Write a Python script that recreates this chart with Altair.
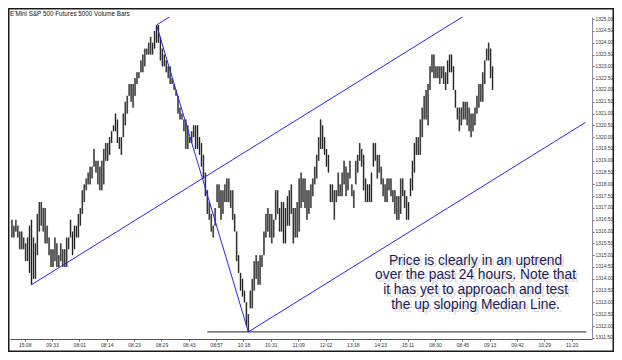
import altair as alt
import pandas as pd

# ---- data (5000-contract volume bars) ----
highs = [
    1316.5, 1316.25, 1316.5, 1316.25, 1316.0, 1316.0, 1315.75, 1315.5, 1315.75, 1316.25,
    1316.5, 1315.75, 1315.5, 1316.75, 1317.25, 1317.25, 1317.0, 1317.0, 1316.25, 1315.75,
    1315.25, 1315.25, 1315.75, 1315.5, 1315.0, 1315.5, 1315.25, 1315.25, 1315.75, 1315.75,
    1316.5, 1316.0, 1316.25, 1316.25, 1316.75, 1317.0, 1317.75, 1318.0, 1318.25, 1318.5,
    1318.75, 1318.75, 1319.5, 1319.0, 1319.0, 1318.75, 1319.0, 1319.5, 1319.75, 1319.75,
    1320.0, 1320.25, 1320.5, 1321.0, 1320.75, 1320.0, 1320.0, 1321.0, 1321.5, 1321.75,
    1322.25, 1322.25, 1322.25, 1322.5, 1322.75, 1322.75, 1323.25, 1323.5, 1323.75, 1323.75,
    1324.0, 1324.25, 1324.0, 1324.5, 1324.75, 1324.75, 1324.25, 1323.75, 1323.5, 1323.25,
    1323.0, 1323.0, 1322.5, 1322.25, 1322.0, 1321.75, 1321.25, 1321.0, 1320.75, 1320.75,
    1320.5, 1320.0, 1320.25, 1320.5, 1320.5, 1320.5, 1320.0, 1319.75, 1319.25, 1318.5,
    1317.75, 1317.25, 1316.75, 1316.25, 1317.0, 1318.0, 1318.0, 1317.75, 1317.75, 1318.0,
    1318.25, 1318.25, 1317.75, 1317.75, 1316.75, 1316.0, 1315.0, 1314.25, 1314.0, 1313.5,
    1313.0, 1312.5,
    1313.5, 1314.0, 1314.75, 1315.0, 1314.75, 1315.0, 1315.0, 1316.0,
    1316.75, 1317.0, 1316.75, 1316.75, 1316.5, 1317.75, 1317.75, 1317.0, 1317.25, 1317.25,
    1317.0, 1317.5, 1317.75, 1318.0, 1317.0, 1317.0, 1317.25, 1318.25, 1318.5, 1318.25,
    1318.25, 1317.75, 1317.75, 1318.0, 1318.25, 1318.75, 1319.25, 1320.0, 1320.75, 1320.5,
    1320.0, 1319.5, 1319.25, 1318.0, 1318.0, 1317.75, 1317.75, 1318.5, 1318.0, 1318.5,
    1319.0, 1318.75, 1318.5, 1319.0, 1318.0, 1317.75, 1319.0, 1319.25, 1319.75, 1319.5,
    1319.25, 1318.25, 1318.0, 1318.0,
    1318.5, 1319.75, 1319.75, 1319.25, 1319.25, 1318.75, 1318.25, 1318.0, 1318.25, 1318.25,
    1318.25, 1317.75, 1317.75, 1317.5, 1317.5, 1318.25, 1318.25, 1317.75, 1317.5, 1317.25,
    1318.25, 1319.0, 1319.75, 1320.0, 1320.0, 1320.75, 1321.25, 1321.75, 1322.0, 1322.25,
    1323.0, 1323.5, 1323.5, 1323.0, 1323.0, 1323.0, 1323.0, 1323.0, 1322.75, 1323.25,
    1323.5, 1323.5, 1323.0, 1322.0, 1321.25, 1321.25, 1321.25, 1321.5, 1321.5, 1321.5,
    1321.25, 1321.0, 1321.0, 1321.25, 1321.75, 1322.25, 1322.25, 1322.75, 1323.25, 1323.75,
    1324.0, 1323.75, 1323.0,
]
lows = [
    1315.75, 1315.75, 1316.0, 1315.75, 1315.25, 1315.25, 1315.25, 1314.75, 1314.75, 1314.25,
    1313.75, 1314.0, 1314.0, 1315.0, 1316.0, 1316.25, 1316.0, 1315.5, 1315.5, 1315.0,
    1314.5, 1314.5, 1314.75, 1314.5, 1314.5, 1314.75, 1314.5, 1314.5, 1314.5, 1315.25,
    1315.75, 1315.0, 1315.25, 1315.75, 1315.75, 1316.25, 1316.75, 1317.25, 1317.75, 1318.0,
    1318.0, 1318.25, 1318.75, 1318.5, 1318.0, 1317.75, 1317.75, 1318.0, 1319.0, 1319.0,
    1319.25, 1319.75, 1320.25, 1320.25, 1319.75, 1319.5, 1319.25, 1320.0, 1320.5, 1321.0,
    1321.75, 1321.5, 1321.25, 1321.75, 1322.25, 1322.5, 1322.75, 1322.75, 1323.0, 1323.5,
    1323.5, 1323.5, 1323.5, 1323.75, 1324.0, 1324.0, 1323.25, 1323.0, 1323.0, 1322.75,
    1322.5, 1322.25, 1322.25, 1322.0, 1321.75, 1321.0, 1320.75, 1320.75, 1320.25, 1319.5,
    1319.5, 1319.75, 1319.75, 1320.0, 1319.5, 1319.5, 1319.25, 1318.75, 1318.25, 1317.5,
    1316.75, 1316.5, 1316.0, 1315.75, 1316.25, 1317.25, 1317.0, 1316.5, 1316.75, 1317.25,
    1317.25, 1317.25, 1317.0, 1316.5, 1316.0, 1314.75, 1314.25, 1313.5, 1313.25, 1313.0,
    1312.0, 1311.75,
    1312.75, 1312.75, 1313.5, 1314.0, 1313.75, 1313.75, 1314.5, 1315.0,
    1315.75, 1316.0, 1315.75, 1315.5, 1315.75, 1316.5, 1316.75, 1316.0, 1316.0, 1315.5,
    1315.5, 1316.25, 1316.25, 1316.75, 1315.5, 1315.75, 1315.75, 1316.0, 1317.0, 1317.25,
    1317.0, 1316.5, 1316.75, 1317.0, 1317.5, 1318.0, 1318.25, 1319.0, 1319.5, 1319.5,
    1319.25, 1318.75, 1318.5, 1317.25, 1317.25, 1316.5, 1317.25, 1317.5, 1317.5, 1317.5,
    1318.0, 1317.5, 1317.75, 1318.25, 1317.5, 1317.0, 1318.0, 1318.5, 1319.0, 1318.75,
    1317.75, 1317.25, 1317.25, 1317.25,
    1317.25, 1318.75, 1319.0, 1318.25, 1318.5, 1318.0, 1317.5, 1317.25, 1317.25, 1317.75,
    1317.5, 1317.25, 1316.75, 1316.5, 1316.5, 1316.75, 1317.5, 1317.0, 1316.5, 1316.5,
    1317.5, 1317.75, 1318.5, 1319.25, 1319.25, 1319.25, 1320.0, 1320.75, 1320.75, 1320.5,
    1322.0, 1322.75, 1322.5, 1322.5, 1322.5, 1322.25, 1322.5, 1322.25, 1322.0, 1322.25,
    1322.75, 1322.75, 1322.0, 1321.25, 1320.75, 1320.25, 1320.5, 1320.75, 1320.75, 1320.5,
    1320.25, 1320.0, 1320.25, 1320.5, 1321.0, 1321.25, 1321.5, 1321.5, 1322.25, 1323.25,
    1323.25, 1322.5, 1322.0,
]

time_labels = ["15:08", "09:33", "08:01", "08:14", "08:23", "08:29", "08:43", "08:57",
               "10:18", "10:31", "11:09", "12:02", "13:18", "14:23", "15:11", "08:30",
               "08:45", "09:13", "09:42", "10:29", "11:20"]
time_ticks = [6.5, 20.5, 34.5, 48.5, 62.5, 76.5, 90.5, 104.5, 118.5, 132.5, 146.5,
              160.5, 174.5, 188.5, 202.5, 216.5, 230.5, 244.5, 258.5, 272.5, 286.5]
price_ticks = [1311.5 + 0.5 * k for k in range(28)]

# pitchfork pivots (bar index, price)
pivot_idx = [10, 74, 121]
pivot_px = [1313.75, 1324.75, 1311.75]
fork_end = [240, 90, 293.5]       # bar index where each tine ends
support_span = [100, 294]         # horizontal line at the low pivot

title_text = "E'Mini S&P 500 Futures 5000 Volume Bars"
note_lines = ["Price is clearly in an uptrend",
              "over the past 24 hours.  Note that",
              "it has yet to approach and test",
              "the up sloping Median Line."]
note_pos = (237.3, 1314.77)   # centre of the first line

# ---- build tables ----
n = min(len(highs), len(lows))
bars = pd.DataFrame({"i": list(range(n)), "high": highs[:n], "low": lows[:n]})

ax_, ay_ = pivot_idx[0], pivot_px[0]
bx_, by_ = pivot_idx[1], pivot_px[1]
cx_, cy_ = pivot_idx[2], pivot_px[2]
mx_, my_ = (bx_ + cx_) / 2, (by_ + cy_) / 2
slope = (my_ - ay_) / (mx_ - ax_)
segs = pd.DataFrame({
    "x": [ax_, bx_, cx_, bx_],
    "y": [ay_, by_, cy_, by_],
    "x2": [fork_end[0], fork_end[1], fork_end[2], cx_],
    "y2": [ay_ + slope * (fork_end[0] - ax_), by_ + slope * (fork_end[1] - bx_),
           cy_ + slope * (fork_end[2] - cx_), cy_],
})
support = pd.DataFrame({"x": [support_span[0]], "x2": [support_span[1]], "y": [cy_]})

W, H = 582, 322
xs = alt.Scale(domain=[-1, 296.9], nice=False, zero=False)
ys = alt.Scale(domain=[1311.45, 1325.09], nice=False, zero=False)

label_arr = "[" + ",".join("'%s'" % t for t in time_labels) + "]"
x_axis = alt.Axis(values=time_ticks, labelExpr=label_arr + "[round((datum.value-6.5)/14)]",
                  title=None, grid=False, labelFontSize=5, labelFont="Liberation Sans",
                  labelColor="#333333", tickSize=2, labelPadding=1, tickColor="#6b6b80",
                  domainColor="#555555", labelFlush=False, labelOverlap=False)
y_axis = alt.Axis(orient="right", values=price_ticks, format=".2f", title=None, grid=False,
                  labelFontSize=4.9, labelFont="Liberation Sans", labelColor="#333333",
                  tickSize=2, labelPadding=1, tickColor="#6b6b80", domainColor="#8a8aa0",
                  labelOverlap=False, labelFlush=False)

bar_under = alt.Chart(bars).mark_rule(color="#a8a8a8", strokeWidth=2).encode(
    x=alt.X("i:Q", scale=xs, axis=x_axis),
    y=alt.Y("low:Q", scale=ys, axis=y_axis),
    y2="high:Q",
)
bar_layer = alt.Chart(bars).mark_rule(color="#1e1e1e", strokeWidth=1).encode(
    x=alt.X("i:Q", scale=xs, axis=x_axis), y=alt.Y("low:Q", scale=ys, axis=y_axis), y2="high:Q",
)

fork_layer = alt.Chart(segs).mark_rule(color="#2626f2", strokeWidth=1, clip=True).encode(
    x=alt.X("x:Q", scale=xs, axis=x_axis), y=alt.Y("y:Q", scale=ys, axis=y_axis),
    x2="x2:Q", y2="y2:Q"
)

support_layer = alt.Chart(support).mark_rule(color="#222222", strokeWidth=1).encode(
    x=alt.X("x:Q", scale=xs, axis=x_axis), x2="x2:Q", y=alt.Y("y:Q", scale=ys, axis=y_axis)
)

note_df = pd.DataFrame({"x": [note_pos[0]], "y": [note_pos[1]]})
def note(color, dx, dy, opacity):
    return alt.Chart(note_df).mark_text(
        text=note_lines, font="Liberation Sans", fontSize=13.8, lineHeight=14.8,
        align="center", baseline="middle", color=color, dx=dx, dy=dy, opacity=opacity
    ).encode(x=alt.X("x:Q", scale=xs, axis=x_axis), y=alt.Y("y:Q", scale=ys, axis=y_axis))

note_layers = [note("#a0a0a0", 2.5, 2.5, 0.4), note("#1c1c5a", 0, 0, 1.0)]

title_layer = alt.Chart(pd.DataFrame({"t": [title_text]})).mark_text(
    font="Liberation Sans", fontSize=6.3, align="left", baseline="middle", color="#111111"
).encode(text="t:N", x=alt.value(0), y=alt.value(-3))

frame = alt.Chart(pd.DataFrame({"a": [0]})).mark_rect(
    fillOpacity=0, stroke="#1a1a1a", strokeWidth=1.5
).encode(x=alt.value(-1.25), x2=alt.value(W + 22 - 0.75), y=alt.value(-8.25),
         y2=alt.value(H + 13 - 0.75))

chart = alt.layer(
    bar_under, bar_layer, fork_layer, support_layer, *note_layers, title_layer, frame
).properties(
    width=W, height=H,
    autosize=alt.AutoSizeParams(type="none"),
    padding={"left": 2, "top": 9, "right": 22, "bottom": 13},
    background="white",
).configure_view(stroke=None).configure_axis(labelOverlap=False)

chart.save("out.html", embed_options={"renderer": "svg", "actions": False})
